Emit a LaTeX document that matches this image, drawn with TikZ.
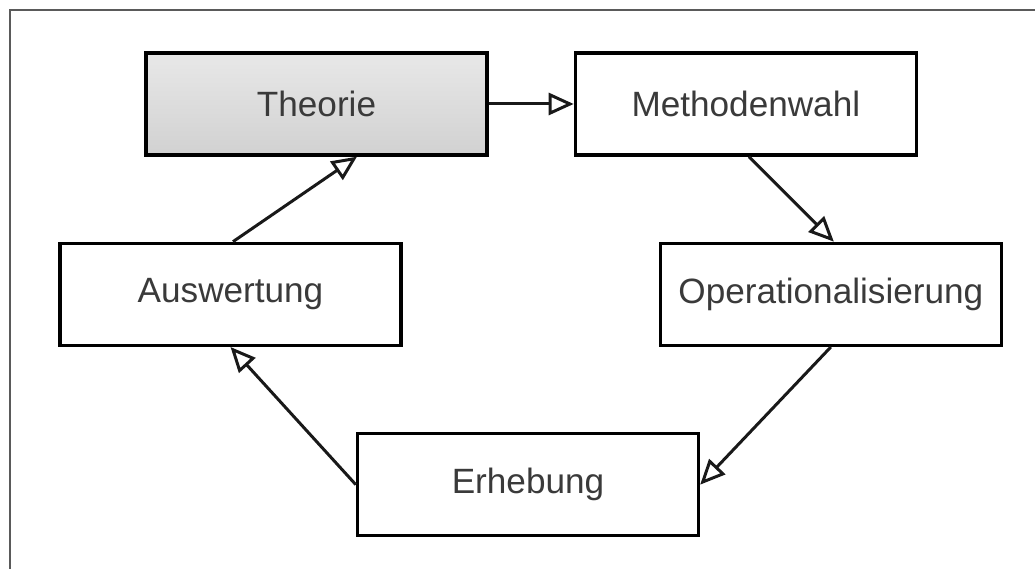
\documentclass[tikz,border=0pt]{standalone}
\usepackage{fontspec}
\setmainfont{Liberation Sans}
\usepackage{xcolor}
\usepackage{tikz}
\usetikzlibrary{arrows.meta, positioning}
\definecolor{boxtext}{HTML}{3A3A3A}
\definecolor{framegray}{HTML}{5A5A5A}

\begin{document}
\begin{tikzpicture}[
    node distance=1.7cm,
    box/.style={draw, line width=1.9pt, minimum width=6.82cm, minimum height=2.04cm, font=\fontsize{20}{24}\selectfont, text=boxtext, align=center, fill=white},
    arrow/.style={-{Triangle[open, length=0.5cm, width=0.44cm]}, line width=1.7pt, draw=black!90},
]
\useasboundingbox (0,0) rectangle (20.7,11.38);

% outer frame
\draw[framegray, line width=1.1pt] (0.2,-0.1) -- (0.2,11.18) -- (20.8,11.18);

% top row
\node[box, top color=black!9, middle color=black!19, bottom color=black!18] (theo) at (6.33,9.30) {Theorie};
\node[box, right=1.7cm of theo] (mw) {Methodenwahl};

% middle row
\node[box, below=1.7cm of theo, xshift=-1.72cm] (aus) {Auswertung};
\node[box, below=1.7cm of mw, xshift=1.7cm] (op) {Operationalisierung};

% bottom row
\node[box, below=1.7cm of aus, xshift=5.95cm] (erh) {Erhebung};

% Arrows
\draw[arrow] (theo.east) -- (mw.west);
\draw[arrow] ([xshift=0.06cm]mw.south) -- ([xshift=0.06cm]op.north);
\draw[arrow] (op.south) -- (erh.east);
\draw[arrow] (erh.west) -- (aus.south);
\draw[arrow] ([xshift=0.05cm]aus.north) -- ([xshift=0.81cm]theo.south);

\end{tikzpicture}
\end{document}
